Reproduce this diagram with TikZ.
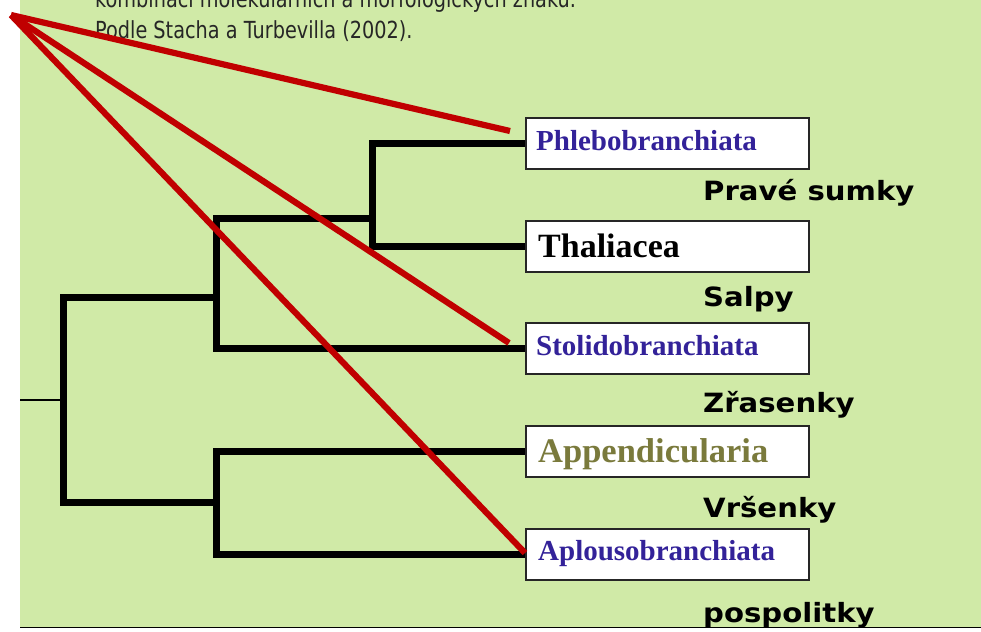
\documentclass[tikz,border=0pt]{standalone}
\usepackage{fontspec}
\newfontfamily\boxfont{Liberation Serif}
\newfontfamily\labfont{DejaVu Sans}
\definecolor{bg}{RGB}{208,234,167}
\definecolor{redline}{RGB}{192,0,0}
\definecolor{taxblue}{RGB}{51,34,153}
\definecolor{taxolive}{RGB}{122,122,60}
\begin{document}
\begin{tikzpicture}[x=1pt,y=-1pt,
  taxbox/.style={draw=black!85, line width=2pt, fill=white, minimum width=283pt, minimum height=51pt, inner sep=0pt},
  taxsmall/.style={anchor=base west, inner sep=0pt, font=\boxfont\bfseries\fontsize{29}{29}\selectfont},
  taxbig/.style={anchor=base west, inner sep=0pt, font=\boxfont\bfseries\fontsize{34.5}{34.5}\selectfont},
  grouplab/.style={anchor=base west, inner sep=0pt, font=\labfont\bfseries\fontsize{26.5}{26.5}\selectfont},
  toptext/.style={anchor=base west, inner sep=0pt, font=\labfont\fontsize{23.5}{23.5}\selectfont, text=black!85},
  branch/.style={line width=7pt, line join=miter},
  pointer/.style={draw=redline, line width=6.2pt}]
\useasboundingbox (0,0) rectangle (981,631);
\clip (0,0) rectangle (981,631);
\fill[white] (0,0) rectangle (981,631);
\fill[bg] (20,0) rectangle (981,627);
\draw[line width=1.8pt] (20,627.5) -- (981,627.5);

% source text
\node[toptext] (src1) at (95,8) {\scalebox{0.82}[1]{kombinací molekulárních a morfologických znaků.}};
\node[toptext] (src2) at (95,39) {\scalebox{0.82}[1]{Podle Stacha a Turbevilla (2002).}};

% boxes
\node[taxbox] (phl) at (667.5,143.5) {};
\node[taxbox] (tha) at (667.5,246.5) {};
\node[taxbox] (sto) at (667.5,348.5) {};
\node[taxbox] (app) at (667.5,451.5) {};
\node[taxbox] (apl) at (667.5,554) {};

\node[taxsmall, text=taxblue] (phlt) at (536,150) {Phlebobranchiata};
\node[taxbig, text=black, font=\boxfont\bfseries\fontsize{34}{34}\selectfont] (that) at (538,257) {Thaliacea};
\node[taxsmall, text=taxblue] (stot) at (536,355) {Stolidobranchiata};
\node[taxbig, text=taxolive] (appt) at (538,462) {Appendicularia};
\node[taxsmall, text=taxblue] (aplt) at (538,560) {Aplousobranchiata};

% group labels
\node[grouplab] (g1) at (703,200) {\scalebox{1.1}[1]{Pravé sumky}};
\node[grouplab] (g2) at (703,306) {\scalebox{1.1}[1]{Salpy}};
\node[grouplab] (g3) at (703,412) {\scalebox{1.1}[1]{Zřasenky}};
\node[grouplab] (g4) at (703,517) {\scalebox{1.1}[1]{Vršenky}};
\node[grouplab] (g5) at (703,622) {\scalebox{1.1}[1]{pospolitky}};

% tree
\coordinate (j3) at (372,218);
\coordinate (j2) at (216,297);
\coordinate (j4) at (216,502);
\coordinate (j1) at (63,400);
\coordinate (stub) at (20,400);
\draw[branch] (phl.west) -| (j3) |- (tha.west);
\draw[branch] (j3) -| (j2) |- (sto.west);
\draw[branch] (j2) -| (j1) |- (j4);
\draw[branch] (app.west) -| (j4) |- (apl.west);
\draw[line width=1.3pt] (stub) -- (j1);

% red pointers
\coordinate (apex) at (11,15);
\coordinate (pphl) at (510,131);
\coordinate (psto) at (509,343);
\coordinate (papl) at (525,553);
\draw[pointer] (apex) -- (pphl);
\draw[pointer] (apex) -- (psto);
\draw[pointer] (apex) -- (papl);
\end{tikzpicture}
\end{document}
